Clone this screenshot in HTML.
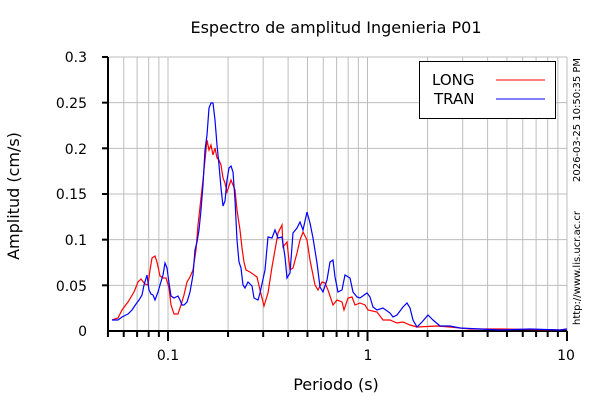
<!DOCTYPE html>
<html><head><style>body{margin:0;background:#fff}</style></head><body>
<svg width="600" height="400" xmlns="http://www.w3.org/2000/svg" font-family="DejaVu Sans, sans-serif">
<rect width="600" height="400" fill="#fff"/>
<g id="grid" stroke="#bdbdbd" stroke-width="1"></g>
<g stroke="#000" stroke-width="2" fill="none">
<line x1="108" y1="57" x2="108" y2="332"/>
<line x1="107" y1="331" x2="567" y2="331"/>
</g>
<g id="ticks" stroke="#000" stroke-width="2"></g>
<polyline fill="none" stroke="#f00" stroke-width="1.2" points="112,320 118,318 122,310 128,302 134,292 138,282 141,279 145,284 148,285 150,270 152,258 155,256 157,262 160,276 163,278 166,278 169,288 171,305 174,314 178,314 181,305 184,295 187,282 190,277 193,270 196,250 198,225 201,198 203,180 205,160 207,140 209,150 211,145 213,155 215,148 217,158 219,160 221,165 223,178 225,183 227,192 229,186 231,180 233,185 235,190 237,210 240,230 242,248 244,262 246,270 250,272 257,277 260,290 264,306 268,293 272,267 275,250 278,233 282,225 283,247 287,242 290,270 293,268 297,253 300,240 303,232 307,240 310,260 315,285 318,290 322,282 325,283 328,290 333,305 337,300 342,302 344,310 348,298 352,297 355,305 360,303 365,305 368,310 377,312 383,320 390,320 397,323 403,322 410,325 417,327 437,326 450,327 470,329 500,329 560,330 567,329"/>
<polyline fill="none" stroke="#00f" stroke-width="1.2" points="112,320 118,320 122,317 128,314 132,310 136,304 139,300 142,295 144,285 147,275 149,290 151,294 153,295 155,300 158,292 160,285 163,275 165,263 167,268 169,283 171,296 174,298 176,297 178,296 180,300 182,305 184,305 187,302 190,292 193,275 195,250 197,242 199,230 201,210 203,185 205,150 207,135 209,108 211,103 213,103 215,120 217,145 219,165 221,188 223,206 225,201 227,180 229,168 231,166 233,172 235,200 237,240 239,262 241,268 243,285 245,288 248,282 252,286 254,298 258,300 260,293 265,270 268,237 272,238 275,230 278,238 282,237 285,257 287,278 290,273 293,233 297,228 300,222 303,230 307,212 310,223 313,238 317,263 320,287 323,292 327,280 330,262 333,260 335,277 338,292 342,290 345,275 350,278 353,292 357,297 360,298 367,293 370,297 373,307 377,310 383,308 390,313 393,317 397,315 403,307 407,303 410,308 413,320 417,327 422,322 428,315 433,320 440,326 450,326 460,328 480,329 500,330 530,329 560,330 567,329"/>
<g font-size="14" fill="#000" text-anchor="end">
<text x="87" y="62">0.3</text><text x="87" y="108">0.25</text><text x="87" y="154">0.2</text><text x="87" y="199">0.15</text><text x="87" y="245">0.1</text><text x="87" y="291">0.05</text><text x="87" y="336">0</text>
</g>
<g font-size="14" text-anchor="middle">
<text x="168" y="360">0.1</text><text x="368" y="360">1</text><text x="566" y="360">10</text>
</g>
<g font-size="16" text-anchor="middle">
<text x="336" y="390">Periodo (s)</text>
<text x="336" y="33">Espectro de amplitud Ingenieria P01</text>
<text transform="translate(19,196) rotate(-90)">Amplitud (cm/s)</text>
</g>
<rect x="419.5" y="61.5" width="136" height="57" fill="#fff" stroke="#000"/>
<text x="432" y="85" font-size="15">LONG</text><text x="434" y="104" font-size="15">TRAN</text>
<line x1="496" y1="80" x2="545" y2="80" stroke="#f00"/><line x1="496" y1="99" x2="545" y2="99" stroke="#00f"/>
<g font-size="10" text-anchor="middle">
<text transform="translate(580,120) rotate(-90)">2026-03-25 10:50:35 PM</text>
<text transform="translate(580,268) rotate(-90)">http://www.lis.ucr.ac.cr</text>
</g>
<script>
var g=document.getElementById('grid'),t=document.getElementById('ticks'),ns='http://www.w3.org/2000/svg';
function ln(p,a){var l=document.createElementNS(ns,'line');for(var k in a)l.setAttribute(k,a[k]);p.appendChild(l);}
for(var d=-2;d<=0;d++)for(var m=1;m<10;m++){var v=m*Math.pow(10,d);if(v<0.05||v>10)continue;var x=168+199.5*(Math.log10(v)+1);
if(x>109)ln(g,{x1:x,y1:57,x2:x,y2:331});ln(t,{x1:x,y1:331,x2:x,y2:m==1?341:337});}
ln(g,{x1:567,y1:57,x2:567,y2:331});ln(t,{x1:567,y1:331,x2:567,y2:341});
for(var i=1;i<=6;i++){var y=331-i*45.67;ln(g,{x1:109,y1:y,x2:567,y2:y});ln(t,{x1:102,y1:y,x2:108,y2:y});}
</script>
</svg>
</body></html>
